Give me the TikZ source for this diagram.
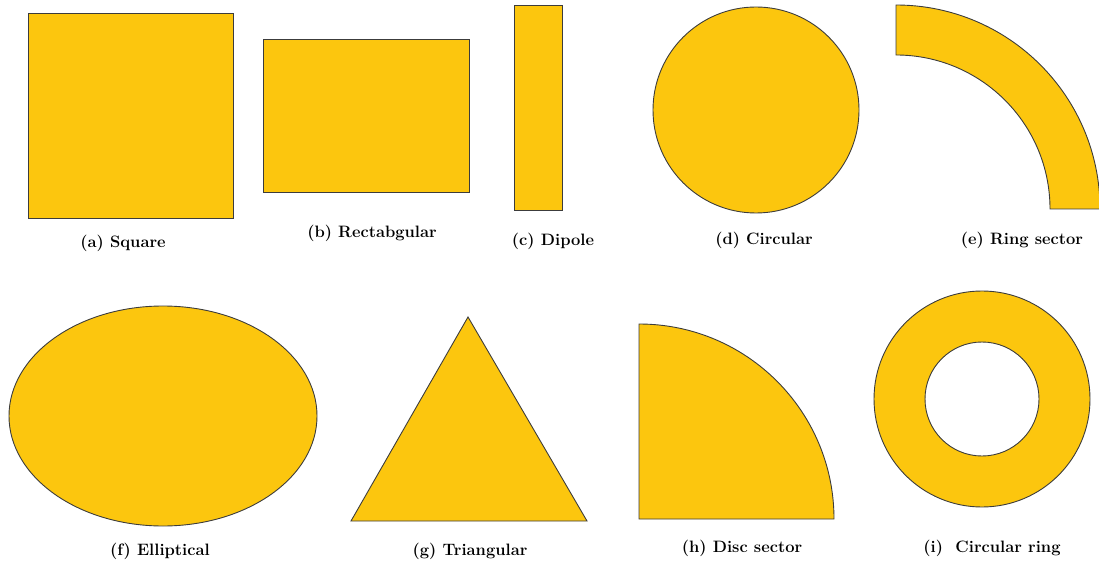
\documentclass[tikz,border=0pt]{standalone}
\definecolor{patch}{RGB}{252,198,14}
\definecolor{edge}{RGB}{60,60,60}
\begin{document}
\begin{tikzpicture}[x=1pt,y=1pt,
  patchshape/.style={fill=patch,draw=edge,line width=0.9pt},
  caplabel/.style={font=\fontsize{16.5}{20}\selectfont\bfseries,inner sep=0pt,anchor=center}]
\useasboundingbox (0,0) rectangle (1099,568);
% row 1
\draw[patchshape] (28,350) rectangle (233,555);
\draw[patchshape] (263,376) rectangle (469,529);
\draw[patchshape] (514,358) rectangle (562,563);
\draw[patchshape] (756,458) circle[radius=103];
\draw[patchshape] (896,563) arc[start angle=90,end angle=0,radius=204] -- (1050,359) arc[start angle=0,end angle=90,radius=154] -- cycle;
% row 2
\draw[patchshape] (163,152) ellipse[x radius=154,y radius=110];
\draw[patchshape] (468,251) -- (351,47) -- (587,47) -- cycle;
\draw[patchshape] (639,49) -- (639,244) arc[start angle=90,end angle=0,radius=195] -- cycle;
\draw[patchshape,even odd rule] (982,169) circle[radius=108] (982,169) circle[radius=57];
% labels
\node[caplabel] (la) at (123,325) {(a) Square};
\node[caplabel] (lb) at (372,335) {(b) Rectabgular};
\node[caplabel] (lc) at (553,327) {(c) Dipole};
\node[caplabel] (ld) at (764,328) {(d) Circular};
\node[caplabel] (le) at (1022,328) {(e) Ring sector};
\node[caplabel] (lf) at (160,17) {(f) Elliptical};
\node[caplabel] (lg) at (470,17) {(g) Triangular};
\node[caplabel] (lh) at (742,20) {(h) Disc sector};
\node[caplabel] (li) at (992,20) {(i)\ \ Circular ring};
\end{tikzpicture}
\end{document}
